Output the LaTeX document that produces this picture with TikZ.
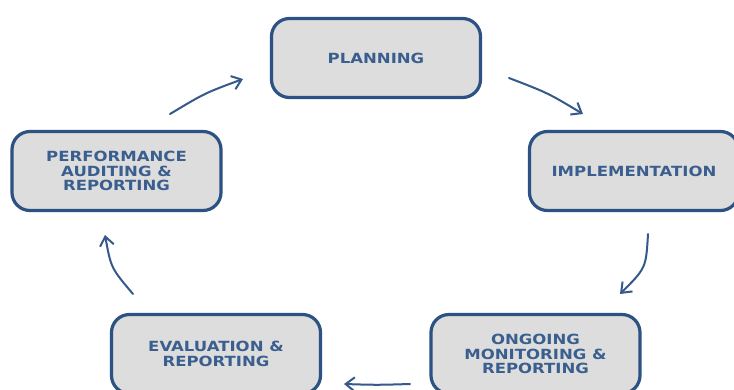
\documentclass[tikz,border=0pt]{standalone}
\usepackage{fontspec}
\newfontfamily\boxfont{DejaVu Sans}[FakeStretch=1.18]
\usetikzlibrary{arrows.meta}
\definecolor{boxborder}{HTML}{2C5283}
\definecolor{boxfill}{HTML}{DDDDDD}
\definecolor{boxtext}{HTML}{3A5F8F}
\definecolor{arrowcol}{HTML}{34598A}
\tikzset{
  stagebox/.style={draw=boxborder, fill=boxfill, line width=3.2pt,
    rounded corners=18pt, minimum width=209pt, minimum height=79pt,
    inner sep=0pt, align=center, text=boxtext,
    font=\boxfont\bfseries\fontsize{14}{14.3}\selectfont},
  cyclearrow/.style={draw=arrowcol, line width=2pt, line cap=round,
    -{Straight Barb[length=9pt,width=14pt,line width=2pt]}}
}
\begin{document}
\begin{tikzpicture}[x=1pt,y=-1pt]
\useasboundingbox (0,0) rectangle (734,389);
\clip (0,0) rectangle (734,389);
\fill[white] (0,0) rectangle (734,389);
\node[stagebox] (plan) at (376,58) {PLANNING};
\node[stagebox] (impl) at (634,171) {IMPLEMENTATION};
\node[stagebox] (mon) at (535.5,354) {ONGOING\\MONITORING \&\\REPORTING};
\node[stagebox] (eval) at (216,354) {EVALUATION \&\\REPORTING};
\node[stagebox] (perf) at (116.5,171) {PERFORMANCE\\AUDITING \&\\REPORTING};
\coordinate (a1s) at (509,78);  \coordinate (a1c) at (548,93);  \coordinate (a1e) at (583,114);
\coordinate (a2s) at (648,234); \coordinate (a2c) at (646,268); \coordinate (a2e) at (620,294);
\coordinate (a3s) at (410,384); \coordinate (a3c) at (377,385); \coordinate (a3e) at (344,384);
\coordinate (a4s) at (133,294); \coordinate (a4c) at (111,268); \coordinate (a4e) at (105,235);
\coordinate (a5s) at (170,114); \coordinate (a5c) at (205,93);  \coordinate (a5e) at (243,79);
\draw[cyclearrow] (a1s) .. controls (a1c) .. (a1e);
\draw[cyclearrow] (a2s) .. controls (a2c) .. (a2e);
\draw[cyclearrow] (a3s) .. controls (a3c) .. (a3e);
\draw[cyclearrow] (a4s) .. controls (a4c) .. (a4e);
\draw[cyclearrow] (a5s) .. controls (a5c) .. (a5e);
\end{tikzpicture}
\end{document}
